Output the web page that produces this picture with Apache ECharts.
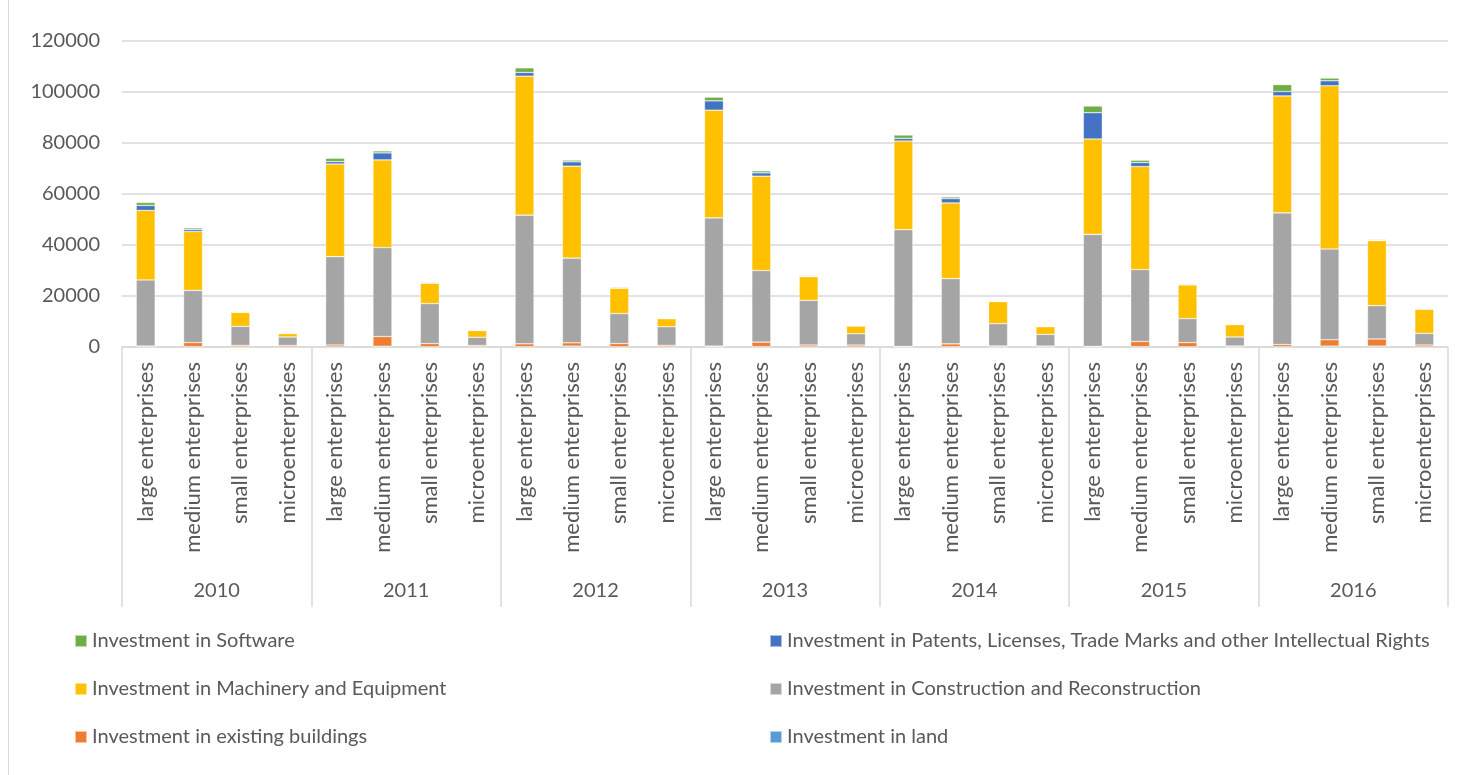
<!DOCTYPE html>
<html>
<head>
<meta charset="utf-8">
<title>Investment by enterprise size, 2010–2016</title>
<script src="https://cdn.jsdelivr.net/npm/echarts@6/dist/echarts.min.js"></script>
<style>
  html, body { margin: 0; padding: 0; background: #ffffff; }
  #chart { width: 1461px; height: 775px; }
</style>
</head>
<body>
<div id="chart"></div>
<script>
// Category labels
const years = ['2010', '2011', '2012', '2013', '2014', '2015', '2016'];
const sizes = ['large enterprises', 'medium enterprises', 'small enterprises', 'microenterprises'];
const yTicks = { min: 0, max: 120000, interval: 20000 };

// Values per year, in order: large, medium, small, micro
const land = [
  100, 150, 80, 50,
  100, 300, 100, 150,
  100, 350, 100, 80,
  80, 150, 80, 60,
  60, 120, 60, 50,
  60, 150, 80, 60,
  100, 350, 350, 80
];
const existingBuildings = [
  300, 1600, 550, 550,
  700, 3800, 1250, 450,
  1150, 1300, 1250, 550,
  250, 1750, 700, 700,
  200, 1100, 350, 330,
  200, 2000, 1650, 330,
  850, 2500, 2800, 700
];
const construction = [
  25900, 20440, 7470, 3330,
  34640, 34900, 15690, 3220,
  50450, 33200, 11770, 7320,
  50320, 28100, 17520, 4450,
  45750, 25610, 8760, 4580,
  43920, 28230, 9410, 3530,
  51630, 35560, 13070, 4580
];
const machinery = [
  27250, 23060, 5500, 1370,
  36330, 34370, 7970, 2620,
  54500, 36070, 9930, 3140,
  42220, 36990, 9280, 3000,
  34760, 29670, 8630, 3000,
  37380, 40390, 13200, 4840,
  45880, 64040, 25480, 9410
];
const patents = [
  1960, 780, 100, 30,
  920, 2750, 300, 50,
  1440, 1700, 150, 200,
  3660, 1310, 250, 150,
  1050, 1700, 100, 100,
  10320, 1570, 150, 150,
  1700, 1960, 150, 250
];
const software = [
  1180, 660, 100, 100,
  1310, 780, 150, 200,
  1830, 650, 350, 100,
  1440, 780, 300, 250,
  1310, 660, 200, 200,
  2620, 910, 300, 150,
  2740, 1050, 300, 200
];

// Inner axis: one slot per (year, size)
const categories = [];
years.forEach(() => sizes.forEach(s => categories.push(s)));

const FONT = 'Lato, "Noto Sans", sans-serif';
const TEXT = '#595959';
const LINE = '#d9d9d9';

const seriesDefs = [
  { name: 'Investment in land', data: land, color: '#5B9BD5' },
  { name: 'Investment in existing buildings', data: existingBuildings, color: '#ED7D31' },
  { name: 'Investment in Construction and Reconstruction', data: construction, color: '#A5A5A5' },
  { name: 'Investment in Machinery and Equipment', data: machinery, color: '#FFC000' },
  { name: 'Investment in Patents, Licenses, Trade Marks and other Intellectual Rights', data: patents, color: '#4472C4' },
  { name: 'Investment in Software', data: software, color: '#70AD47' }
];

const chart = echarts.init(document.getElementById('chart'), null, { renderer: 'canvas' });

const legendCommon = {
  orient: 'vertical',
  icon: 'rect',
  itemWidth: 12,
  itemHeight: 12,
  itemGap: 28,
  selectedMode: false,
  textStyle: { color: TEXT, fontFamily: FONT, fontSize: 20, lineHeight: 20, padding: [0, 0, 0, 0] }
};

chart.setOption({
  animation: false,
  backgroundColor: '#ffffff',
  textStyle: { fontFamily: FONT },
  grid: { left: 122, right: 13, top: 41, bottom: 428, containLabel: false },
  legend: [
    Object.assign({}, legendCommon, {
      left: 69, top: 626,
      data: ['Investment in Software', 'Investment in Machinery and Equipment', 'Investment in existing buildings']
    }),
    Object.assign({}, legendCommon, {
      left: 764, top: 626,
      data: ['Investment in Patents, Licenses, Trade Marks and other Intellectual Rights',
             'Investment in Construction and Reconstruction', 'Investment in land']
    })
  ],
  xAxis: [
    {
      type: 'category',
      data: categories,
      position: 'bottom',
      boundaryGap: true,
      axisLine: { show: true, lineStyle: { color: LINE, width: 1.5 } },
      axisTick: { show: false },
      axisLabel: {
        rotate: 90, interval: 0, margin: 15,
        color: TEXT, fontFamily: FONT, fontSize: 22
      },
      splitLine: { show: false }
    },
    {
      type: 'category',
      data: years,
      position: 'bottom',
      boundaryGap: true,
      axisLine: { show: false },
      axisTick: { show: true, length: 260, lineStyle: { color: LINE, width: 1.5 } },
      axisLabel: { interval: 0, margin: 234, color: TEXT, fontFamily: FONT, fontSize: 20 },
      splitLine: { show: false }
    }
  ],
  yAxis: {
    type: 'value',
    min: yTicks.min, max: yTicks.max, interval: yTicks.interval,
    axisLine: { show: false },
    axisTick: { show: false },
    axisLabel: {
      color: TEXT, fontFamily: FONT, fontSize: 20, margin: 22,
      formatter: v => String(v)
    },
    splitLine: { lineStyle: { color: LINE, width: 1.5 } }
  },
  series: seriesDefs.map(d => ({
    name: d.name,
    type: 'bar',
    stack: 'total',
    xAxisIndex: 0,
    barWidth: '40%',
    data: d.data,
    itemStyle: { color: d.color, borderColor: 'rgba(255,255,255,0.55)', borderWidth: 0.6 },
    emphasis: { disabled: true }
  })),
  graphic: [
    {
      type: 'line',
      shape: { x1: 8.5, y1: 0, x2: 8.5, y2: 775 },
      style: { stroke: LINE, lineWidth: 1 },
      silent: true
    }
  ]
});
</script>
</body>
</html>
